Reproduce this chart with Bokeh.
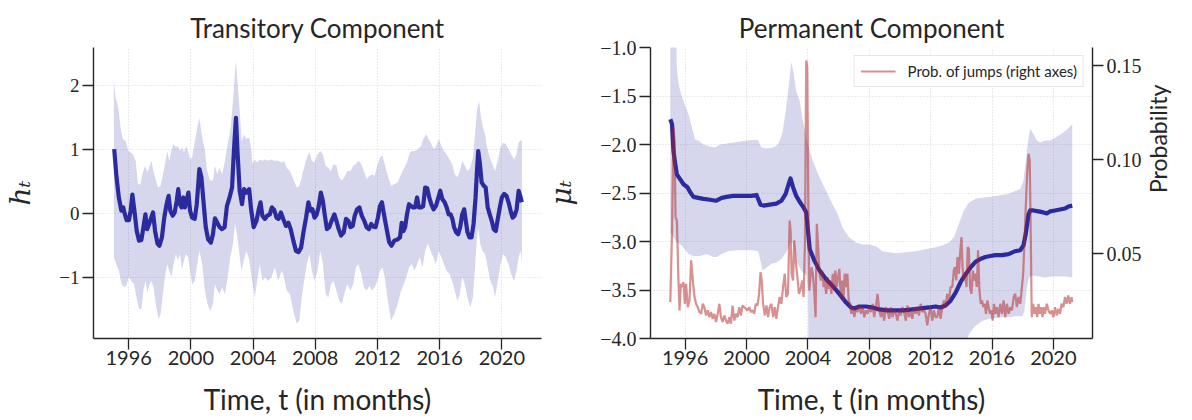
import math
from bokeh.plotting import figure
from bokeh.models import Range1d, LinearAxis, FixedTicker, Legend, LegendItem
from bokeh.layouts import row
from bokeh.embed import file_html
from bokeh.resources import INLINE

# ---------------- data (time in years, monthly series) ----------------
year_ticks = [1996, 2000, 2004, 2008, 2012, 2016, 2020]
h_ticks = [-1, 0, 1, 2]
mu_ticks = [-4.0, -3.5, -3.0, -2.5, -2.0, -1.5, -1.0]
prob_ticks = [0.05, 0.10, 0.15]

# Transitory component: posterior mean of h_t
h_mean = [
    (1995.07, 1.00), (1995.22, 0.56), (1995.37, 0.245), (1995.53, 0.04), (1995.65, 0.09),
    (1995.76, -0.02), (1995.87, -0.11), (1996.02, -0.11), (1996.13, 0.04), (1996.24, 0.29),
    (1996.37, 0.04), (1996.52, -0.28), (1996.67, -0.43), (1996.82, -0.42), (1996.95, -0.22),
    (1997.08, -0.02), (1997.19, -0.25), (1997.32, -0.17), (1997.45, -0.07), (1997.57, 0.01),
    (1997.70, -0.28), (1997.86, -0.48), (1997.98, -0.51), (1998.14, -0.38), (1998.29, -0.07),
    (1998.44, 0.14), (1998.57, 0.27), (1998.68, 0.04), (1998.83, -0.04), (1998.96, 0.01),
    (1999.09, 0.19), (1999.19, 0.375), (1999.30, 0.14), (1999.41, 0.09), (1999.52, 0.245),
    (1999.62, 0.09), (1999.73, 0.19), (1999.84, 0.32), (1999.95, 0.04), (2000.08, -0.07),
    (2000.25, -0.09), (2000.38, 0.14), (2000.55, 0.69), (2000.68, 0.56), (2000.81, 0.19),
    (2000.96, -0.22), (2001.11, -0.41), (2001.29, -0.46), (2001.42, -0.33), (2001.55, -0.08),
    (2001.70, -0.15), (2001.85, -0.22), (2002.00, -0.25), (2002.17, -0.22), (2002.32, 0.11),
    (2002.49, 0.245), (2002.65, 0.40), (2002.77, 0.97), (2002.90, 1.49), (2003.01, 0.92),
    (2003.14, 0.35), (2003.29, 0.14), (2003.42, 0.375), (2003.57, 0.32), (2003.75, 0.375),
    (2003.87, 0.07), (2004.04, -0.22), (2004.22, -0.12), (2004.35, 0.04), (2004.48, 0.17),
    (2004.60, -0.04), (2004.76, -0.09), (2004.91, -0.04), (2005.08, -0.02), (2005.21, 0.09),
    (2005.36, 0.05), (2005.51, -0.07), (2005.64, -0.09), (2005.79, 0.01), (2005.94, -0.09),
    (2006.12, -0.20), (2006.27, -0.15), (2006.42, -0.25), (2006.59, -0.43), (2006.76, -0.59),
    (2006.92, -0.61), (2007.09, -0.54), (2007.24, -0.30), (2007.41, -0.07), (2007.56, 0.17),
    (2007.69, 0.04), (2007.82, 0.06), (2007.95, -0.07), (2008.08, -0.03), (2008.21, 0.09),
    (2008.36, 0.32), (2008.49, 0.19), (2008.62, -0.04), (2008.75, -0.25), (2008.90, -0.22),
    (2009.05, -0.12), (2009.23, -0.02), (2009.36, -0.12), (2009.51, -0.25), (2009.66, -0.35),
    (2009.83, -0.30), (2009.98, -0.09), (2010.13, -0.12), (2010.26, -0.22), (2010.41, -0.20),
    (2010.54, -0.04), (2010.69, 0.06), (2010.84, 0.09), (2010.99, -0.04), (2011.15, -0.12),
    (2011.30, -0.22), (2011.45, -0.25), (2011.60, -0.17), (2011.73, -0.21), (2011.88, -0.22),
    (2012.03, -0.07), (2012.16, 0.11), (2012.29, 0.17), (2012.42, -0.02), (2012.57, -0.22),
    (2012.75, -0.45), (2012.90, -0.51), (2013.08, -0.43), (2013.30, -0.41), (2013.45, -0.38),
    (2013.56, -0.15), (2013.67, -0.28), (2013.78, -0.22), (2013.90, -0.02), (2014.03, 0.14),
    (2014.16, 0.11), (2014.29, 0.09), (2014.42, 0.09), (2014.55, 0.245), (2014.66, 0.09),
    (2014.81, 0.09), (2014.94, 0.11), (2015.07, 0.40), (2015.20, 0.39), (2015.33, 0.245),
    (2015.46, 0.14), (2015.61, 0.06), (2015.76, 0.11), (2015.89, 0.22), (2016.04, 0.35),
    (2016.17, 0.22), (2016.32, 0.17), (2016.45, 0.09), (2016.58, -0.02), (2016.71, -0.02),
    (2016.82, -0.09), (2016.93, -0.22), (2017.06, -0.30), (2017.19, -0.33), (2017.32, -0.22),
    (2017.45, -0.02), (2017.58, 0.06), (2017.68, -0.12), (2017.79, -0.30), (2017.92, -0.38),
    (2018.05, -0.38), (2018.18, -0.17), (2018.31, 0.245), (2018.40, 0.66), (2018.48, 0.97),
    (2018.59, 0.77), (2018.70, 0.48), (2018.83, 0.43), (2018.96, 0.40), (2019.09, 0.09),
    (2019.22, -0.02), (2019.35, -0.12), (2019.48, -0.25), (2019.61, -0.28), (2019.74, -0.09),
    (2019.87, 0.09), (2020.00, 0.245), (2020.15, 0.30), (2020.30, 0.27), (2020.43, 0.17),
    (2020.56, 0.04), (2020.69, -0.07), (2020.82, -0.04), (2020.95, 0.06), (2021.08, 0.35),
    (2021.21, 0.245), (2021.29, 0.17),
]

# Transitory component: upper edge of credible band
h_upper = [
    (1995.05, 2.07), (1995.16, 1.81), (1995.33, 1.65), (1995.48, 1.34), (1995.63, 1.16),
    (1995.81, 1.13), (1995.98, 0.97), (1996.13, 0.95), (1996.28, 0.92), (1996.45, 0.82),
    (1996.60, 0.45), (1996.76, 0.45), (1996.88, 0.61), (1997.06, 0.74), (1997.19, 0.64),
    (1997.32, 0.71), (1997.47, 0.82), (1997.60, 0.66), (1997.75, 0.51), (1997.90, 0.40),
    (1998.05, 0.43), (1998.18, 0.56), (1998.33, 0.77), (1998.48, 0.97), (1998.61, 0.82),
    (1998.74, 0.97), (1998.89, 1.08), (1999.04, 1.03), (1999.17, 1.05), (1999.30, 0.97),
    (1999.43, 1.03), (1999.56, 0.95), (1999.69, 1.05), (1999.82, 0.97), (1999.95, 0.84),
    (2000.08, 0.87), (2000.23, 1.08), (2000.38, 1.29), (2000.55, 1.49), (2000.73, 1.18),
    (2000.88, 1.03), (2001.05, 0.66), (2001.24, 0.51), (2001.42, 0.51), (2001.55, 0.74),
    (2001.70, 0.61), (2001.85, 0.71), (2002.02, 0.61), (2002.19, 0.82), (2002.37, 1.08),
    (2002.54, 1.29), (2002.71, 1.76), (2002.84, 2.22), (2002.90, 2.38), (2003.01, 2.02),
    (2003.14, 1.60), (2003.27, 1.13), (2003.42, 1.23), (2003.57, 1.16), (2003.75, 1.18),
    (2003.90, 0.97), (2003.96, 0.77), (2004.11, 0.84), (2004.26, 0.79), (2004.43, 0.84),
    (2004.60, 0.82), (2004.78, 0.84), (2004.97, 0.82), (2005.19, 0.84), (2005.40, 0.82),
    (2005.62, 0.82), (2005.84, 0.79), (2005.99, 0.82), (2006.16, 0.71), (2006.38, 0.66),
    (2006.59, 0.53), (2006.81, 0.40), (2006.98, 0.43), (2007.13, 0.56), (2007.28, 0.71),
    (2007.46, 0.87), (2007.63, 0.95), (2007.78, 0.82), (2007.95, 0.79), (2008.15, 0.92),
    (2008.32, 0.97), (2008.49, 0.92), (2008.67, 0.74), (2008.84, 0.71), (2009.01, 0.66),
    (2009.18, 0.77), (2009.36, 0.74), (2009.53, 0.56), (2009.70, 0.51), (2009.87, 0.56),
    (2010.05, 0.66), (2010.26, 0.66), (2010.44, 0.74), (2010.61, 0.77), (2010.78, 0.82),
    (2010.96, 0.77), (2011.13, 0.66), (2011.30, 0.53), (2011.48, 0.58), (2011.65, 0.61),
    (2011.82, 0.58), (2011.99, 0.74), (2012.16, 0.87), (2012.32, 0.90), (2012.47, 0.77),
    (2012.64, 0.61), (2012.87, 0.43), (2013.08, 0.45), (2013.30, 0.48), (2013.52, 0.61),
    (2013.73, 0.71), (2013.90, 0.79), (2014.08, 0.95), (2014.27, 0.97), (2014.42, 0.97),
    (2014.60, 1.00), (2014.81, 1.05), (2014.98, 1.18), (2015.14, 1.23), (2015.29, 1.16),
    (2015.46, 1.08), (2015.63, 1.00), (2015.78, 1.05), (2015.94, 1.16), (2016.11, 1.05),
    (2016.28, 0.97), (2016.45, 0.92), (2016.63, 0.84), (2016.80, 0.77), (2016.97, 0.61),
    (2017.14, 0.56), (2017.30, 0.66), (2017.45, 0.82), (2017.62, 0.74), (2017.79, 0.66),
    (2017.97, 0.71), (2018.14, 0.87), (2018.27, 1.23), (2018.40, 1.60), (2018.53, 1.76),
    (2018.66, 1.49), (2018.79, 1.34), (2018.92, 1.23), (2019.05, 1.03), (2019.22, 0.87),
    (2019.39, 0.77), (2019.56, 0.66), (2019.74, 0.82), (2019.91, 1.03), (2020.08, 1.10),
    (2020.25, 1.08), (2020.43, 1.00), (2020.60, 0.92), (2020.78, 0.84), (2020.95, 0.92),
    (2021.08, 1.10), (2021.21, 1.14), (2021.29, 1.13),
]

# Transitory component: lower edge of credible band
h_lower = [
    (1995.05, -0.69), (1995.20, -0.80), (1995.37, -0.90), (1995.55, -1.11), (1995.70, -1.16),
    (1995.85, -1.14), (1996.02, -1.00), (1996.17, -1.06), (1996.35, -1.11), (1996.50, -1.32),
    (1996.67, -1.50), (1996.82, -1.50), (1996.95, -1.21), (1997.08, -1.06), (1997.21, -1.24),
    (1997.34, -1.11), (1997.47, -1.06), (1997.60, -1.16), (1997.75, -1.42), (1997.92, -1.66),
    (1998.05, -1.58), (1998.18, -1.32), (1998.33, -1.00), (1998.48, -0.80), (1998.61, -0.90),
    (1998.74, -1.00), (1998.89, -0.80), (1999.04, -0.64), (1999.17, -0.74), (1999.30, -0.64),
    (1999.43, -0.875), (1999.56, -0.74), (1999.69, -0.64), (1999.82, -0.69), (1999.95, -0.90),
    (2000.08, -1.11), (2000.25, -1.06), (2000.38, -0.85), (2000.55, -0.59), (2000.73, -0.80),
    (2000.90, -1.21), (2001.07, -1.42), (2001.24, -1.53), (2001.42, -1.42), (2001.55, -1.11),
    (2001.70, -1.21), (2001.85, -1.27), (2002.02, -1.16), (2002.19, -1.27), (2002.37, -1.00),
    (2002.54, -0.69), (2002.71, -0.48), (2002.84, -0.17), (2002.97, -0.33), (2003.10, -0.59),
    (2003.25, -0.90), (2003.40, -0.74), (2003.57, -0.59), (2003.75, -0.72), (2003.90, -1.00),
    (2004.11, -1.32), (2004.26, -1.06), (2004.43, -0.80), (2004.60, -1.06), (2004.78, -1.00),
    (2004.97, -1.06), (2005.19, -1.00), (2005.40, -0.85), (2005.62, -1.06), (2005.84, -0.90),
    (2005.99, -1.00), (2006.16, -1.21), (2006.38, -1.27), (2006.59, -1.53), (2006.81, -1.73),
    (2006.98, -1.68), (2007.13, -1.32), (2007.28, -1.06), (2007.46, -0.80), (2007.63, -0.64),
    (2007.78, -0.90), (2007.95, -1.06), (2008.15, -0.90), (2008.32, -0.59), (2008.49, -0.80),
    (2008.67, -1.27), (2008.84, -1.32), (2009.01, -1.11), (2009.18, -1.06), (2009.36, -1.21),
    (2009.53, -1.37), (2009.70, -1.42), (2009.87, -1.27), (2010.05, -1.11), (2010.26, -1.21),
    (2010.44, -1.11), (2010.61, -0.85), (2010.78, -0.80), (2010.96, -0.95), (2011.13, -1.16),
    (2011.30, -1.21), (2011.48, -1.14), (2011.65, -1.21), (2011.82, -1.16), (2011.99, -1.06),
    (2012.16, -0.90), (2012.32, -0.85), (2012.47, -1.00), (2012.64, -1.32), (2012.87, -1.68),
    (2013.08, -1.58), (2013.30, -1.42), (2013.52, -1.21), (2013.69, -1.11), (2013.86, -1.00),
    (2014.03, -0.85), (2014.21, -0.80), (2014.38, -0.90), (2014.55, -0.80), (2014.73, -0.69),
    (2014.90, -0.85), (2015.07, -0.59), (2015.24, -0.48), (2015.42, -0.59), (2015.59, -0.69),
    (2015.76, -0.80), (2015.94, -0.59), (2016.11, -0.69), (2016.28, -0.80), (2016.45, -0.90),
    (2016.63, -0.95), (2016.80, -1.06), (2016.97, -1.21), (2017.14, -1.37), (2017.30, -1.27),
    (2017.45, -1.00), (2017.62, -1.11), (2017.79, -1.32), (2017.97, -1.47), (2018.14, -1.32),
    (2018.27, -0.85), (2018.40, -0.38), (2018.48, -0.22), (2018.61, -0.48), (2018.75, -0.59),
    (2018.92, -0.64), (2019.09, -0.85), (2019.26, -1.06), (2019.44, -1.16), (2019.56, -1.32),
    (2019.74, -1.06), (2019.91, -0.80), (2020.08, -0.64), (2020.25, -0.69), (2020.43, -0.80),
    (2020.60, -0.95), (2020.78, -1.06), (2020.95, -0.90), (2021.08, -0.69), (2021.21, -0.59),
    (2021.29, -0.80),
]

# Permanent component: posterior mean of mu_t
mu_mean = [
    (1995.03, -1.74), (1995.14, -1.79), (1995.24, -2.07), (1995.35, -2.20), (1995.46, -2.31),
    (1995.68, -2.36), (1995.89, -2.41), (1996.15, -2.44), (1996.32, -2.49), (1996.54, -2.54),
    (1996.86, -2.55), (1997.19, -2.56), (1997.62, -2.57), (1998.01, -2.58), (1998.38, -2.55),
    (1998.70, -2.54), (1999.13, -2.53), (1999.57, -2.53), (2000.00, -2.53), (2000.32, -2.53),
    (2000.65, -2.52), (2000.91, -2.62), (2001.12, -2.63), (2001.51, -2.62), (2001.94, -2.61),
    (2002.27, -2.58), (2002.55, -2.51), (2002.74, -2.41), (2002.87, -2.35), (2003.03, -2.44),
    (2003.24, -2.53), (2003.46, -2.59), (2003.68, -2.64), (2003.89, -2.70), (2004.00, -2.88),
    (2004.12, -3.08), (2004.43, -3.20), (2004.76, -3.30), (2005.19, -3.39), (2005.62, -3.46),
    (2006.05, -3.54), (2006.49, -3.63), (2006.81, -3.68), (2007.03, -3.69), (2007.35, -3.67),
    (2007.78, -3.67), (2008.22, -3.68), (2008.65, -3.70), (2009.19, -3.71), (2009.73, -3.71),
    (2010.27, -3.71), (2010.81, -3.70), (2011.35, -3.69), (2011.89, -3.68), (2012.32, -3.67),
    (2012.65, -3.68), (2012.97, -3.66), (2013.30, -3.61), (2013.62, -3.53), (2013.95, -3.42),
    (2014.27, -3.34), (2014.59, -3.27), (2014.92, -3.21), (2015.24, -3.18), (2015.57, -3.16),
    (2015.89, -3.15), (2016.22, -3.14), (2016.65, -3.14), (2017.08, -3.13), (2017.51, -3.10),
    (2017.84, -3.09), (2018.05, -3.04), (2018.20, -2.92), (2018.38, -2.72), (2018.49, -2.68),
    (2018.70, -2.68), (2019.03, -2.69), (2019.35, -2.70), (2019.57, -2.71), (2019.78, -2.69),
    (2020.11, -2.68), (2020.43, -2.67), (2020.76, -2.66), (2020.97, -2.64), (2021.23, -2.63),
]

# Permanent component: upper edge of credible band (runs off the top early on)
mu_upper = [
    (1995.03, -0.30), (1995.40, -0.60), (1995.45, -1.20), (1995.55, -1.35), (1995.68, -1.45),
    (1996.00, -1.60), (1996.22, -1.69), (1996.43, -1.82), (1996.65, -1.95), (1996.86, -1.96),
    (1997.19, -2.00), (1997.62, -2.02), (1997.95, -2.03), (1998.27, -2.00), (1998.70, -1.99),
    (1999.13, -1.98), (1999.57, -1.97), (2000.00, -1.96), (2000.54, -1.95), (2000.76, -1.96),
    (2000.97, -2.03), (2001.30, -2.04), (2001.73, -2.03), (2002.05, -2.00), (2002.33, -1.89),
    (2002.59, -1.62), (2002.81, -1.31), (2002.92, -1.15), (2003.07, -1.27), (2003.24, -1.45),
    (2003.46, -1.55), (2003.68, -1.76), (2004.00, -2.00), (2004.32, -2.17), (2004.76, -2.34),
    (2005.19, -2.48), (2005.62, -2.62), (2005.95, -2.72), (2006.27, -2.86), (2006.70, -2.96),
    (2007.13, -3.01), (2007.57, -3.03), (2008.00, -3.03), (2008.43, -3.05), (2008.86, -3.10),
    (2009.30, -3.11), (2009.73, -3.12), (2010.38, -3.11), (2011.03, -3.10), (2011.67, -3.08),
    (2012.32, -3.06), (2012.76, -3.04), (2013.19, -3.01), (2013.51, -2.96), (2013.84, -2.82),
    (2014.16, -2.68), (2014.49, -2.60), (2014.92, -2.56), (2015.35, -2.55), (2015.78, -2.54),
    (2016.22, -2.53), (2016.65, -2.52), (2017.08, -2.51), (2017.51, -2.48), (2017.84, -2.46),
    (2018.05, -2.37), (2018.20, -2.17), (2018.38, -1.93), (2018.49, -1.84), (2018.70, -1.89),
    (2018.92, -1.96), (2019.13, -1.98), (2019.46, -1.96), (2019.78, -1.96), (2020.11, -1.93),
    (2020.54, -1.89), (2020.86, -1.85), (2021.23, -1.79),
]

# Permanent component: lower edge of credible band (runs off the bottom 2004-2014)
mu_lower = [
    (1995.03, -2.91), (1995.24, -2.96), (1995.46, -3.01), (1995.78, -3.04), (1996.22, -3.13),
    (1996.54, -3.15), (1996.97, -3.15), (1997.41, -3.13), (1997.84, -3.16), (1998.05, -3.16),
    (1998.38, -3.13), (1998.81, -3.10), (1999.35, -3.09), (1999.89, -3.09), (2000.43, -3.09),
    (2000.76, -3.10), (2000.91, -3.20), (2001.04, -3.30), (2001.30, -3.27), (2001.62, -3.23),
    (2001.94, -3.22), (2002.27, -3.18), (2002.59, -3.11), (2002.81, -3.03), (2002.92, -2.99),
    (2003.07, -3.06), (2003.24, -3.20), (2003.57, -3.30), (2003.90, -3.35), (2004.00, -3.50),
    (2004.05, -4.30), (2014.10, -4.30), (2014.30, -4.05), (2014.49, -3.96), (2014.70, -3.91),
    (2014.92, -3.87), (2015.35, -3.82), (2015.78, -3.80), (2016.22, -3.79), (2016.65, -3.78),
    (2017.08, -3.78), (2017.51, -3.77), (2017.99, -3.77), (2018.12, -3.71), (2018.27, -3.47),
    (2018.42, -3.37), (2018.64, -3.35), (2019.03, -3.36), (2019.46, -3.37), (2019.89, -3.36),
    (2020.32, -3.36), (2020.76, -3.36), (2021.23, -3.37),
]

# Probability of jumps (right axis)
jump_prob = [
    (1995.03, 0.0243), (1995.14, 0.0606), (1995.24, 0.1174), (1995.31, 0.1100), (1995.37, 0.0695),
    (1995.46, 0.0677), (1995.55, 0.0394), (1995.63, 0.0199), (1995.72, 0.0340), (1995.81, 0.0323),
    (1995.89, 0.0350), (1995.98, 0.0234), (1996.06, 0.0340), (1996.17, 0.0216), (1996.28, 0.0252),
    (1996.39, 0.0465), (1996.50, 0.0358), (1996.61, 0.0270), (1996.71, 0.0234), (1996.82, 0.0216),
    (1996.93, 0.0190), (1997.04, 0.0181), (1997.15, 0.0234), (1997.25, 0.0216), (1997.36, 0.0172),
    (1997.47, 0.0199), (1997.58, 0.0163), (1997.69, 0.0190), (1997.79, 0.0154), (1997.90, 0.0181),
    (1998.01, 0.0137), (1998.12, 0.0181), (1998.23, 0.0234), (1998.33, 0.0163), (1998.44, 0.0137),
    (1998.55, 0.0172), (1998.66, 0.0145), (1998.77, 0.0128), (1998.88, 0.0163), (1998.98, 0.0128),
    (1999.09, 0.0225), (1999.20, 0.0145), (1999.31, 0.0181), (1999.42, 0.0163), (1999.52, 0.0216),
    (1999.63, 0.0172), (1999.74, 0.0225), (1999.85, 0.0216), (1999.96, 0.0207), (2000.06, 0.0199),
    (2000.17, 0.0216), (2000.28, 0.0190), (2000.39, 0.0199), (2000.50, 0.0181), (2000.60, 0.0234),
    (2000.71, 0.0225), (2000.82, 0.0287), (2000.91, 0.0402), (2000.99, 0.0358), (2001.08, 0.0234),
    (2001.19, 0.0172), (2001.30, 0.0225), (2001.40, 0.0163), (2001.51, 0.0216), (2001.62, 0.0234),
    (2001.73, 0.0163), (2001.84, 0.0216), (2001.94, 0.0154), (2002.05, 0.0216), (2002.16, 0.0270),
    (2002.27, 0.0234), (2002.38, 0.0323), (2002.49, 0.0394), (2002.59, 0.0270), (2002.70, 0.0287),
    (2002.81, 0.0677), (2002.87, 0.0624), (2002.94, 0.0394), (2003.03, 0.0358), (2003.11, 0.0571),
    (2003.20, 0.0465), (2003.29, 0.0394), (2003.42, 0.0287), (2003.55, 0.0323), (2003.63, 0.0358),
    (2003.72, 0.0270), (2003.81, 0.0571), (2003.89, 0.1528), (2003.96, 0.1493), (2004.02, 0.0837),
    (2004.09, 0.0305), (2004.15, 0.0358), (2004.24, 0.0429), (2004.32, 0.0394), (2004.41, 0.0305),
    (2004.50, 0.0163), (2004.58, 0.0660), (2004.67, 0.0535), (2004.76, 0.0394), (2004.84, 0.0358),
    (2004.93, 0.0411), (2005.02, 0.0323), (2005.10, 0.0358), (2005.19, 0.0287), (2005.28, 0.0376),
    (2005.36, 0.0314), (2005.45, 0.0358), (2005.53, 0.0287), (2005.62, 0.0394), (2005.71, 0.0305),
    (2005.79, 0.0411), (2005.88, 0.0323), (2005.97, 0.0376), (2006.05, 0.0420), (2006.14, 0.0270),
    (2006.23, 0.0358), (2006.31, 0.0252), (2006.40, 0.0394), (2006.49, 0.0323), (2006.57, 0.0394),
    (2006.66, 0.0252), (2006.75, 0.0234), (2006.83, 0.0181), (2006.92, 0.0216), (2007.03, 0.0163),
    (2007.13, 0.0216), (2007.24, 0.0190), (2007.35, 0.0225), (2007.46, 0.0181), (2007.57, 0.0216),
    (2007.67, 0.0163), (2007.78, 0.0199), (2007.89, 0.0181), (2008.00, 0.0216), (2008.11, 0.0190),
    (2008.22, 0.0234), (2008.32, 0.0163), (2008.43, 0.0216), (2008.54, 0.0287), (2008.65, 0.0199),
    (2008.76, 0.0163), (2008.86, 0.0207), (2008.97, 0.0145), (2009.08, 0.0216), (2009.19, 0.0190),
    (2009.30, 0.0154), (2009.40, 0.0216), (2009.51, 0.0163), (2009.62, 0.0199), (2009.73, 0.0181),
    (2009.84, 0.0145), (2009.94, 0.0199), (2010.05, 0.0172), (2010.16, 0.0216), (2010.27, 0.0190),
    (2010.38, 0.0145), (2010.49, 0.0225), (2010.59, 0.0163), (2010.70, 0.0190), (2010.81, 0.0154),
    (2010.92, 0.0216), (2011.03, 0.0181), (2011.13, 0.0216), (2011.24, 0.0172), (2011.35, 0.0234),
    (2011.46, 0.0190), (2011.57, 0.0199), (2011.67, 0.0181), (2011.78, 0.0119), (2011.89, 0.0181),
    (2012.00, 0.0216), (2012.11, 0.0145), (2012.21, 0.0199), (2012.32, 0.0163), (2012.43, 0.0163),
    (2012.54, 0.0216), (2012.65, 0.0154), (2012.76, 0.0216), (2012.87, 0.0252), (2012.97, 0.0216),
    (2013.08, 0.0287), (2013.19, 0.0252), (2013.30, 0.0323), (2013.41, 0.0323), (2013.51, 0.0411),
    (2013.58, 0.0429), (2013.67, 0.0358), (2013.75, 0.0482), (2013.84, 0.0394), (2013.92, 0.0500),
    (2014.01, 0.0589), (2014.08, 0.0429), (2014.16, 0.0358), (2014.25, 0.0394), (2014.34, 0.0323),
    (2014.42, 0.0535), (2014.49, 0.0527), (2014.57, 0.0323), (2014.66, 0.0287), (2014.75, 0.0411),
    (2014.83, 0.0358), (2014.92, 0.0394), (2015.01, 0.0323), (2015.09, 0.0518), (2015.18, 0.0305),
    (2015.27, 0.0234), (2015.35, 0.0252), (2015.44, 0.0216), (2015.53, 0.0234), (2015.61, 0.0181),
    (2015.70, 0.0252), (2015.78, 0.0216), (2015.87, 0.0181), (2015.96, 0.0199), (2016.04, 0.0145),
    (2016.13, 0.0234), (2016.22, 0.0181), (2016.32, 0.0216), (2016.43, 0.0163), (2016.54, 0.0234),
    (2016.65, 0.0181), (2016.76, 0.0252), (2016.86, 0.0163), (2016.97, 0.0234), (2017.08, 0.0181),
    (2017.19, 0.0216), (2017.30, 0.0199), (2017.41, 0.0270), (2017.51, 0.0287), (2017.62, 0.0216),
    (2017.73, 0.0270), (2017.84, 0.0234), (2017.95, 0.0323), (2018.03, 0.0394), (2018.12, 0.0571),
    (2018.20, 0.0748), (2018.29, 0.0926), (2018.38, 0.1032), (2018.46, 0.0996), (2018.53, 0.0571),
    (2018.59, 0.0163), (2018.68, 0.0234), (2018.77, 0.0181), (2018.85, 0.0216), (2018.94, 0.0163),
    (2019.03, 0.0234), (2019.11, 0.0181), (2019.20, 0.0216), (2019.29, 0.0163), (2019.37, 0.0216),
    (2019.46, 0.0181), (2019.57, 0.0234), (2019.68, 0.0199), (2019.78, 0.0181), (2019.89, 0.0199),
    (2020.00, 0.0163), (2020.11, 0.0216), (2020.22, 0.0172), (2020.32, 0.0207), (2020.43, 0.0181),
    (2020.54, 0.0234), (2020.65, 0.0216), (2020.76, 0.0270), (2020.86, 0.0234), (2020.97, 0.0278),
    (2021.08, 0.0234), (2021.19, 0.0270), (2021.23, 0.0243),
]

titles = ["Transitory Component", "Permanent Component"]
x_label = "Time, t (in months)"
y_labels = ["h\u209c", "\u03bc\u209c"]
legend_label = "Prob. of jumps (right axes)"
prob_label = "Probability"

# ---------------- styling ----------------
INK = "#262626"
MEAN_COLOR = "#00008b"
BAND_COLOR = "#00008b"
JUMP_COLOR = "#b22222"
SANS = "Lato"
SERIF = "Liberation Serif"
X_RANGE = (1993.74, 2022.55)


def unzip(pairs):
    return [a for a, _ in pairs], [b for _, b in pairs]


def minus(v, fmt):
    return (fmt % v).replace("-", "\u2212")


def style_axis(ax, font, size, standoff=2):
    ax.axis_line_color = INK
    ax.axis_line_width = 1.4
    ax.major_tick_line_color = INK
    ax.major_tick_line_width = 1.3
    ax.major_tick_out = 11
    ax.major_tick_in = 0
    ax.minor_tick_line_color = None
    ax.major_label_text_font = font
    ax.major_label_text_font_size = size
    ax.major_label_text_color = INK
    ax.major_label_standoff = standoff


def base_figure(width, left, right, yr):
    p = figure(width=width, height=420, x_range=Range1d(*X_RANGE), y_range=Range1d(*yr),
               output_backend="svg", toolbar_location=None,
               min_border_left=left, min_border_right=right,
               min_border_top=47, min_border_bottom=82)
    p.outline_line_color = None
    p.background_fill_color = "white"
    p.border_fill_color = "white"
    p.xaxis.ticker = FixedTicker(ticks=year_ticks)
    p.xaxis.major_label_overrides = {y: str(y) for y in year_ticks}
    style_axis(p.xaxis[0], SANS, "20px", 1)
    style_axis(p.yaxis[0], SERIF, "19px", 3)
    p.xaxis.axis_label = x_label
    p.xaxis.axis_label_text_font = SANS
    p.xaxis.axis_label_text_font_size = "28px"
    p.xaxis.axis_label_text_font_style = "normal"
    p.xaxis.axis_label_text_color = INK
    p.xaxis.axis_label_standoff = 14
    p.yaxis.axis_label_text_font = "DejaVu Serif"
    p.yaxis.axis_label_text_font_size = "28px"
    p.yaxis.axis_label_text_font_style = "italic"
    p.yaxis.axis_label_text_color = INK
    for g in (p.xgrid[0], p.ygrid[0]):
        g.grid_line_color = "#cfcfcf"
        g.grid_line_width = 0.8
        g.grid_line_dash = "1 2"
    p.title.align = "center"
    p.title.text_font = SANS
    p.title.text_font_size = "26px"
    p.title.text_font_style = "normal"
    p.title.text_color = INK
    p.title.standoff = 8
    return p


# ---------------- left panel ----------------
p1 = base_figure(542, 93, 1, (-1.96, 2.59))
p1.title.text = titles[0]
p1.yaxis.ticker = FixedTicker(ticks=h_ticks)
p1.yaxis.major_label_overrides = {v: minus(v, "%d") for v in h_ticks}
p1.yaxis.axis_label = y_labels[0]
p1.yaxis.axis_label_standoff = 19

ut, uv = unzip(h_upper)
lt, lv = unzip(h_lower)
p1.patch(ut + lt[::-1], uv + lv[::-1], fill_color=BAND_COLOR, fill_alpha=0.16, line_color=None)
mt, mv = unzip(h_mean)
p1.line(mt, mv, line_color=MEAN_COLOR, line_alpha=0.8, line_width=4.2, line_join="round")

# ---------------- right panel ----------------
p2 = base_figure(650, 106, 100, (-4.0, -1.0))
p2.title.text = titles[1]
p2.yaxis.ticker = FixedTicker(ticks=mu_ticks)
p2.yaxis.major_label_overrides = {v: minus(v, "%.1f") for v in mu_ticks}
p2.yaxis.major_label_text_font_size = "20px"
p2.yaxis.axis_label = y_labels[1]
p2.yaxis.axis_label_standoff = 19
p2.extra_y_ranges = {"prob": Range1d(0.00495, 0.1597)}

ut, uv = unzip(mu_upper)
lt, lv = unzip(mu_lower)
p2.patch(ut + lt[::-1], uv + lv[::-1], fill_color=BAND_COLOR, fill_alpha=0.16, line_color=None)
mt, mv = unzip(mu_mean)
p2.line(mt, mv, line_color=MEAN_COLOR, line_alpha=0.8, line_width=4.2, line_join="round")
jt, jv = unzip(jump_prob)
jr = p2.line(jt, jv, y_range_name="prob", line_color=JUMP_COLOR, line_alpha=0.5, line_width=2.2)

pax = LinearAxis(y_range_name="prob", ticker=FixedTicker(ticks=prob_ticks),
                 major_label_overrides={v: "%.2f" % v for v in prob_ticks})
style_axis(pax, SERIF, "20px", 3)
pax.axis_label = prob_label
pax.axis_label_text_font = SANS
pax.axis_label_text_font_size = "23px"
pax.axis_label_text_font_style = "normal"
pax.axis_label_text_color = INK
pax.axis_label_standoff = 13
try:
    pax.axis_label_orientation = math.pi / 2
except (AttributeError, ValueError):
    pass
p2.add_layout(pax, "right")

legend = Legend(items=[LegendItem(label=legend_label, renderers=[jr])], location="top_right",
                label_text_font=SANS, label_text_font_size="15px", label_text_color=INK,
                glyph_width=35, glyph_height=18, label_standoff=12, padding=6, margin=8,
                spacing=0, border_line_color="#cccccc", border_line_width=1,
                background_fill_alpha=0.85)
p2.add_layout(legend)

layout = row(p1, p2)
open("out.html", "w").write(file_html(layout, INLINE))
